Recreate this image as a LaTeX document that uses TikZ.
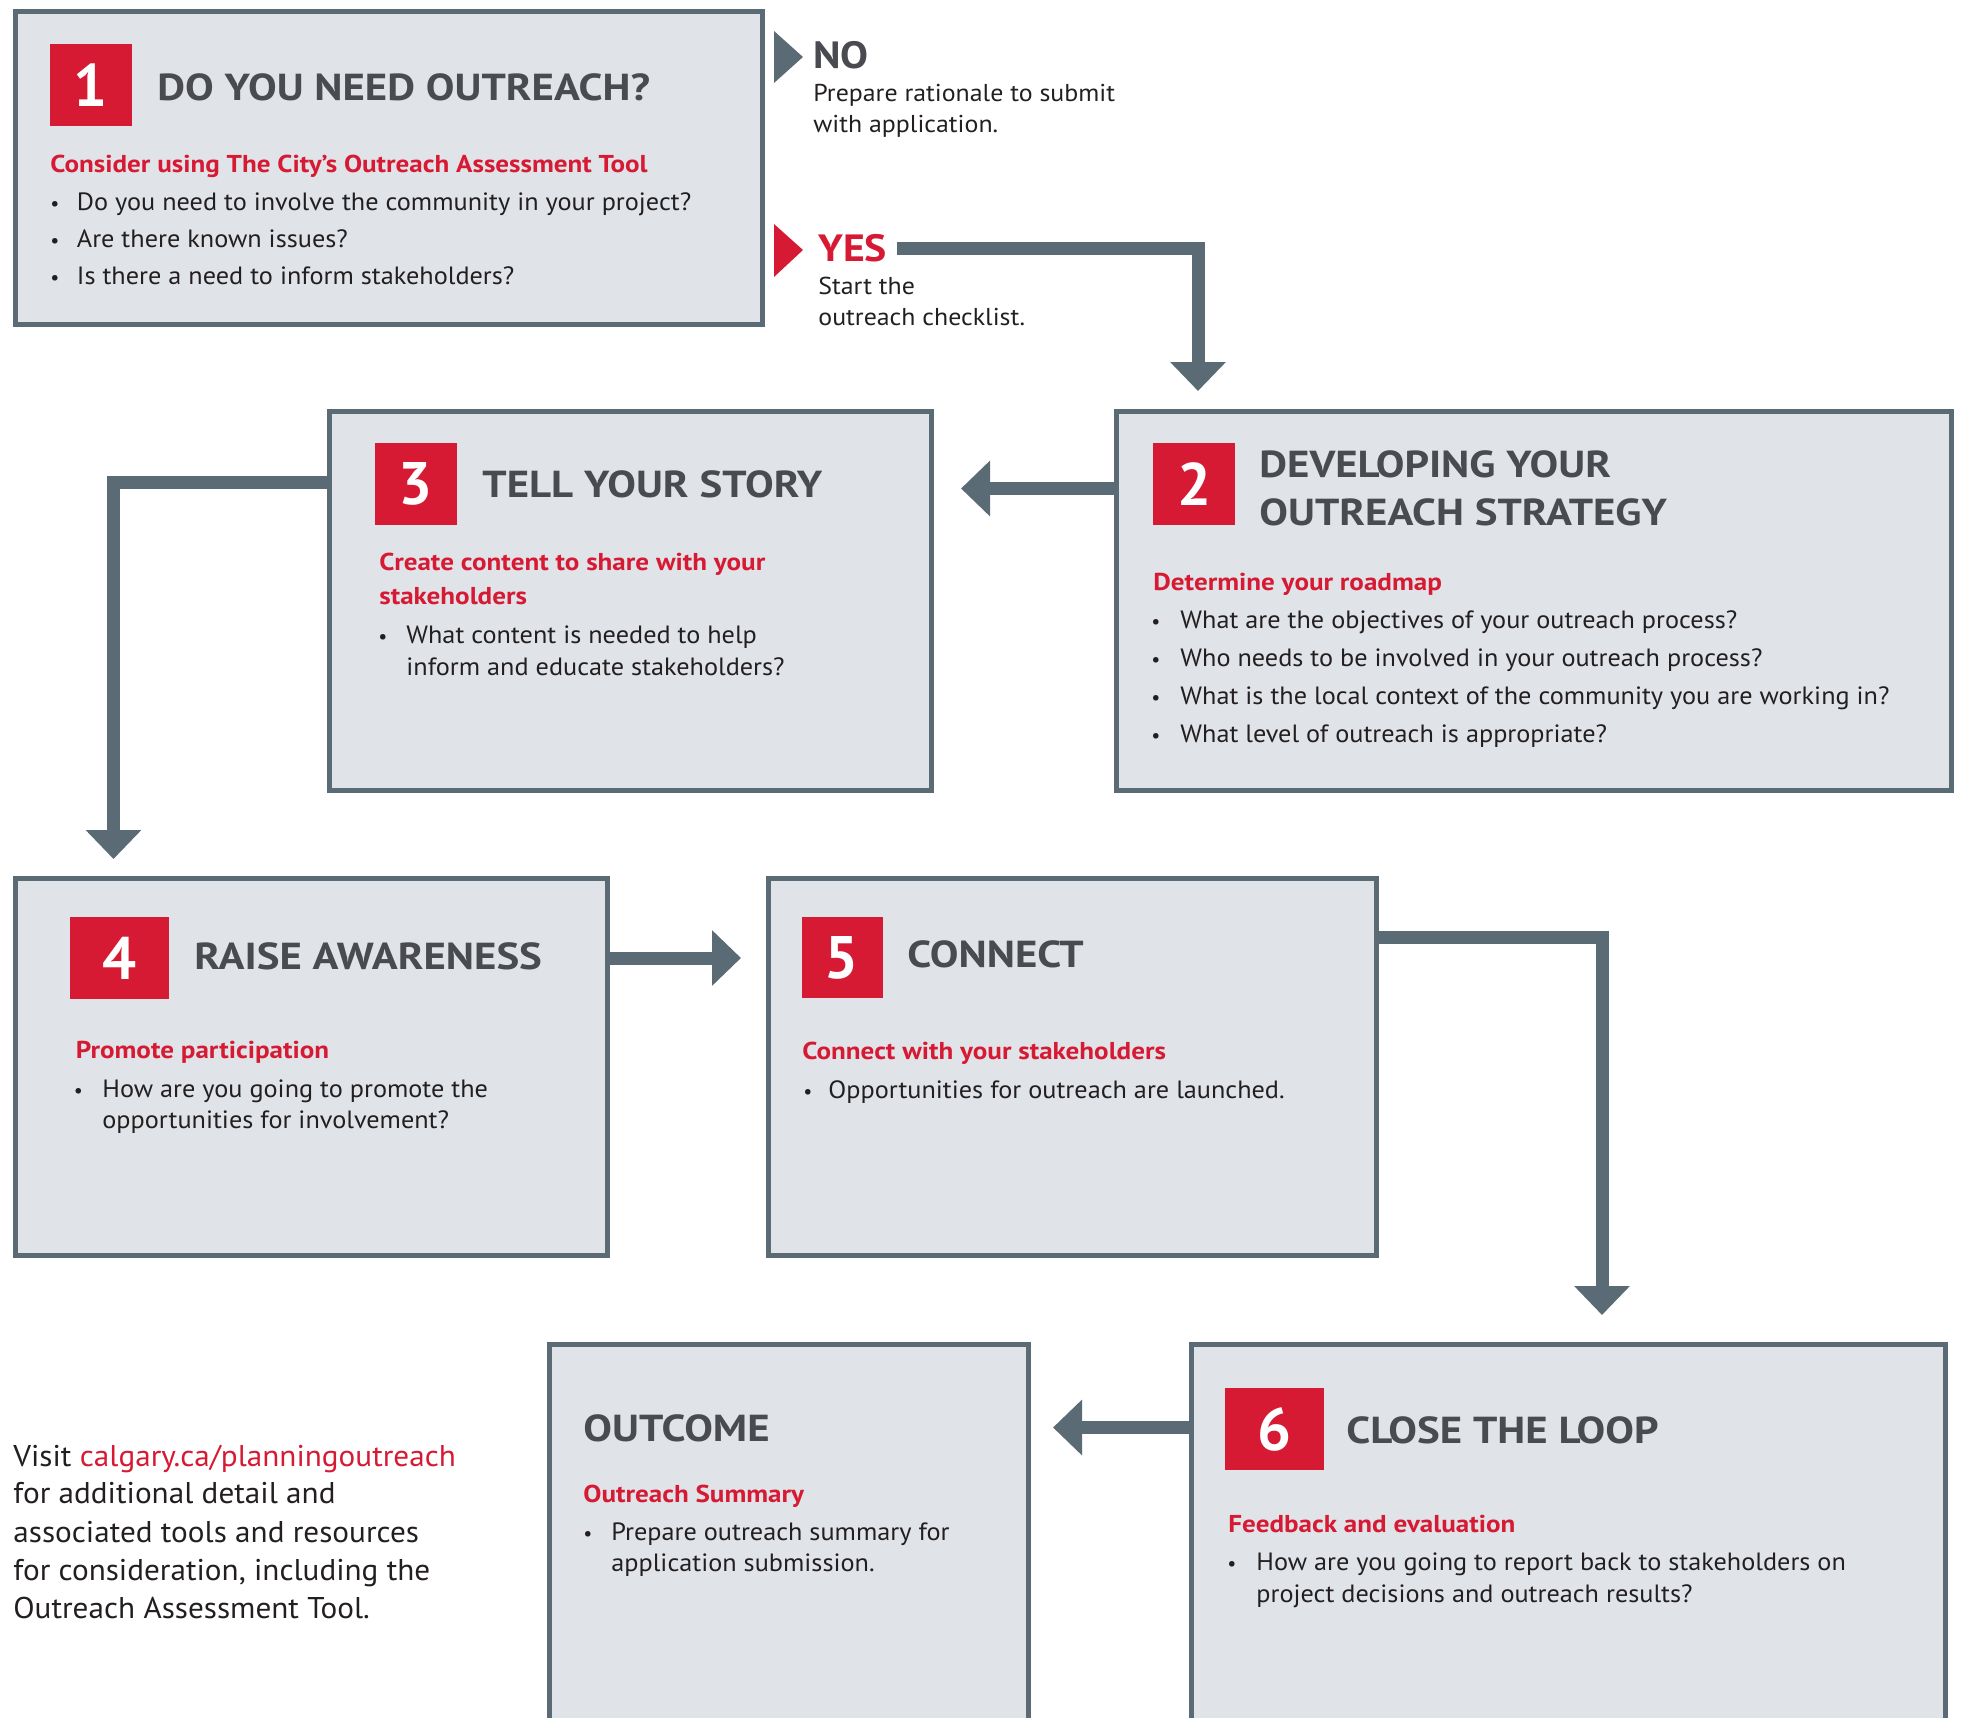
\documentclass[tikz,border=0pt]{standalone}
\usepackage{fontspec}
\setmainfont{PT Sans}
\newfontfamily\ttlf[FakeStretch=1.14]{PT Sans}
\newfontfamily\subf[FakeStretch=1.11]{PT Sans}
\newfontfamily\bodyf[FakeStretch=1.05]{PT Sans}
\newfontfamily\sidef[FakeStretch=1.06]{PT Sans}
\newfontfamily\visf[FakeStretch=1.04]{PT Sans}
\newfontfamily\ynf[FakeStretch=1.1]{PT Sans}
\usetikzlibrary{arrows.meta}
\definecolor{bordc}{HTML}{5B6B76}
\definecolor{boxc}{HTML}{E0E4E8}
\definecolor{redc}{HTML}{D71A33}
\definecolor{titc}{HTML}{4A4B50}
\definecolor{txtc}{HTML}{231F20}
\begin{document}
\begin{tikzpicture}[x=0.5pt,y=-0.5pt,
  box/.style={draw=bordc, fill=boxc, line width=2.5pt, rectangle, anchor=north west, inner sep=0pt, outer sep=0pt},
  numsq/.style={fill=redc, text=white, inner sep=0pt, outer sep=0pt, font=\bfseries\fontsize{30}{30}\selectfont},
  ttl/.style={anchor=base west, inner sep=0pt, text=titc, font=\ttlf\bfseries\fontsize{18.8}{20}\selectfont},
  sub/.style={anchor=base west, inner sep=0pt, text=redc, font=\subf\bfseries\fontsize{12.2}{14}\selectfont},
  bodyt/.style={anchor=base west, inner sep=0pt, text=txtc, font=\bodyf\fontsize{12.5}{14}\selectfont},
  bul/.style={anchor=base west, inner sep=0pt, text=txtc, font=\fontsize{10}{12}\selectfont},
  side/.style={anchor=base west, inner sep=0pt, text=txtc, font=\sidef\fontsize{12.2}{14}\selectfont},
  yn/.style={anchor=base west, inner sep=0pt, font=\ynf\bfseries\fontsize{19}{20}\selectfont},
  visit/.style={anchor=base west, inner sep=0pt, text=txtc, font=\visf\fontsize{15}{18}\selectfont},
  conn/.style={draw=bordc, line width=6.5pt, -{Triangle[width=27pt,length=14.5pt]}}]
\useasboundingbox (0,0) rectangle (1961,1718);
\clip (0,0) rectangle (1961,1718);

% boxes
\node[box, minimum width=373.5pt, minimum height=156.5pt] (b1) at (15.5,11.5) {};
\node[box, minimum width=417.5pt, minimum height=189.5pt] (b2) at (1116.5,411.5) {};
\node[box, minimum width=301pt, minimum height=189.5pt] (b3) at (329.5,411.5) {};
\node[box, minimum width=296pt, minimum height=188.5pt] (b4) at (15.5,878.5) {};
\node[box, minimum width=304pt, minimum height=188.5pt] (b5) at (768.5,878.5) {};
\node[box, minimum width=239.5pt, minimum height=220pt] (bo) at (549.5,1344.5) {};
\node[box, minimum width=377pt, minimum height=220pt] (b6) at (1191.5,1344.5) {};

% number squares
\node[numsq, minimum width=41pt, minimum height=41pt] (n1) at (91,85) {1};
\node[numsq, minimum width=41pt, minimum height=41pt] (n2) at (1194,484) {2};
\node[numsq, minimum width=41pt, minimum height=41pt] (n3) at (416,484) {3};
\node[numsq, minimum width=49.5pt, minimum height=41pt] (n4) at (119.5,958) {4};
\node[numsq, minimum width=40.5pt, minimum height=40.5pt] (n5) at (842,957.5) {5};
\node[numsq, minimum width=49.5pt, minimum height=41pt] (n6) at (1274.5,1429) {6};

% box 1
\node[ttl] (t1) at (157,101) {DO YOU NEED OUTREACH?};
\node[sub] (s1) at (50,172) {Consider using The City’s Outreach Assessment Tool};
\node[bul] (p1a) at (50,211) {•};
\node[bodyt] (l1a) at (76.5,211) {Do you need to involve the community in your project?};
\node[bul] (p1b) at (50,248) {•};
\node[bodyt] (l1b) at (76.5,248) {Are there known issues?};
\node[bul] (p1c) at (50,285) {•};
\node[bodyt] (l1c) at (76.5,285) {Is there a need to inform stakeholders?};

% NO / YES
\fill[bordc] (774,31) -- (803,57) -- (774,83) -- cycle;
\node[yn, text=titc] (no) at (813,69) {NO};
\node[side] (no1) at (813,102) {Prepare rationale to submit};
\node[side] (no2) at (813,133) {with application.};
\fill[redc] (774,224) -- (803,250) -- (774,277) -- cycle;
\node[yn, text=redc] (yes) at (818,262) {YES};
\node[side] (yes1) at (818,294) {Start the};
\node[side] (yes2) at (818,325) {outreach checklist.};

% box 2
\node[ttl] (t2a) at (1259,477) {DEVELOPING YOUR};
\node[ttl] (t2b) at (1259,525) {OUTREACH STRATEGY};
\node[sub] (s2) at (1153,590) {Determine your roadmap};
\node[bul] (p2a) at (1151,628) {•};
\node[bodyt] (l2a) at (1180,628) {What are the objectives of your outreach process?};
\node[bul] (p2b) at (1151,666) {•};
\node[bodyt] (l2b) at (1180,666) {Who needs to be involved in your outreach process?};
\node[bul] (p2c) at (1151,704) {•};
\node[bodyt] (l2c) at (1180,704) {What is the local context of the community you are working in?};
\node[bul] (p2d) at (1151,742) {•};
\node[bodyt] (l2d) at (1180,742) {What level of outreach is appropriate?};

% box 3
\node[ttl] (t3) at (482,497) {TELL YOUR STORY};
\node[sub] (s3a) at (379,570) {Create content to share with your};
\node[sub] (s3b) at (379,604) {stakeholders};
\node[bul] (p3a) at (378,643) {•};
\node[bodyt] (l3a) at (406,643) {What content is needed to help};
\node[bodyt] (l3b) at (406,675) {inform and educate stakeholders?};

% box 4
\node[ttl] (t4) at (194,969) {RAISE AWARENESS};
\node[sub] (s4) at (75.5,1058) {Promote participation};
\node[bul] (p4a) at (73.5,1097) {•};
\node[bodyt] (l4a) at (102,1097) {How are you going to promote the};
\node[bodyt] (l4b) at (102,1128) {opportunities for involvement?};

% box 5
\node[ttl] (t5) at (907,967) {CONNECT};
\node[sub] (s5) at (802,1059) {Connect with your stakeholders};
\node[bul] (p5a) at (803,1098) {•};
\node[bodyt] (l5a) at (828,1098) {Opportunities for outreach are launched.};

% outcome
\node[ttl] (to) at (583,1441) {OUTCOME};
\node[sub] (so) at (583,1502) {Outreach Summary};
\node[bul] (poa) at (583,1540) {•};
\node[bodyt] (loa) at (611,1540) {Prepare outreach summary for};
\node[bodyt] (lob) at (611,1571) {application submission.};

% box 6
\node[ttl] (t6) at (1346,1443) {CLOSE THE LOOP};
\node[sub] (s6) at (1228,1532) {Feedback and evaluation};
\node[bul] (p6a) at (1227,1570) {•};
\node[bodyt] (l6a) at (1256,1570) {How are you going to report back to stakeholders on};
\node[bodyt] (l6b) at (1256,1602) {project decisions and outreach results?};

% visit text
\node[visit] (v1) at (13,1466) {Visit \textcolor{redc}{calgary.ca/planningoutreach}};
\node[visit] (v2) at (13,1503) {for additional detail and};
\node[visit] (v3) at (13,1542) {associated tools and resources};
\node[visit] (v4) at (13,1580) {for consideration, including the};
\node[visit] (v5) at (13,1618) {Outreach Assessment Tool.};

% connectors
\coordinate (ys) at (897,248);
\coordinate (t12) at (1198,391);
\draw[conn] (ys) -| (t12);
\coordinate (t23) at (961,488.5);
\draw[conn] (b2.west |- t23) -- (t23);
\coordinate (t34) at (113.5,859);
\draw[conn] (b3.west |- 0,482.5) -| (t34);
\coordinate (t45) at (741,958);
\draw[conn] (b4.east |- t45) -- (t45);
\coordinate (t56) at (1602,1315);
\draw[conn] (b5.east |- 0,937.5) -| (t56);
\coordinate (t6o) at (1053,1427.5);
\draw[conn] (b6.west |- t6o) -- (t6o);
\end{tikzpicture}
\end{document}
